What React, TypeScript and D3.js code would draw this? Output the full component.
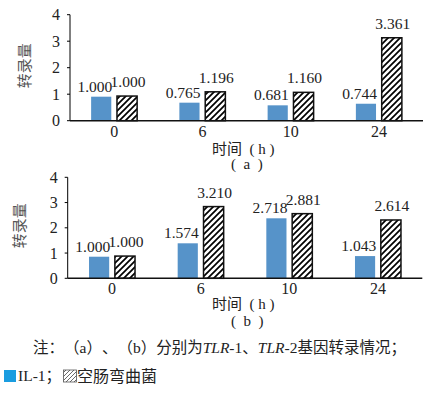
import React from "react";
import * as d3 from "d3";

// time points (h)
const times = ["0", "6", "10", "24"];
const seriesKeys = ["IL-1", "空肠弯曲菌"];

// bar heights as drawn in the figure
const tlr1IL = [0.906, 0.68, 0.58, 0.64];
const tlr1Cj = [0.93, 1.09, 1.07, 3.13];
const tlr2IL = [0.855, 1.386, 2.376, 0.88];
const tlr2Cj = [0.88, 2.84, 2.56, 2.31];

// printed value labels
const tlr1ILLabels = ["1.000", "0.765", "0.681", "0.744"];
const tlr1CjLabels = ["1.000", "1.196", "1.160", "3.361"];
const tlr2ILLabels = ["1.000", "1.574", "2.718", "1.043"];
const tlr2CjLabels = ["1.000", "3.210", "2.881", "2.614"];

const yTicks = [0, 1, 2, 3, 4];

const serif = "'Liberation Serif', 'Times New Roman', 'Noto Sans CJK SC', serif";
const cjk = "'Liberation Serif', 'Noto Sans CJK SC', serif";
const blue = "#5693c9";

function Panel(props) {
    const {x0, x1, yTop, yBottom, il, cj, ilLabels, cjLabels, tag, titleY, tagY, yTitleX} = props;

    const x = d3.scaleBand().domain(times).range([x0, x1]);
    const sub = d3.scaleBand().domain(seriesKeys).range([-23, 23]).paddingInner(0.22);
    const y = d3.scaleLinear().domain([0, 4]).range([yBottom, yTop]);
    const cx = (t) => x(t) + x.bandwidth() / 2;

    return (
        <g>
            {/* y axis */}
            <line x1={x0} x2={x0} y1={y(4)} y2={y(0)} stroke="#000" strokeWidth={1} />
            {yTicks.map((t) => (
                <g key={t}>
                    <line x1={x0 - 3} x2={x0} y1={y(t)} y2={y(t)} stroke="#000" strokeWidth={1} />
                    <text x={x0 - 10} y={y(t)} dy="0.35em" textAnchor="end" fontSize={16} fontFamily={serif} fill="#222">{t}</text>
                </g>
            ))}
            {/* bars */}
            {times.map((t, i) => (
                <g key={t}>
                    <rect x={cx(t) + sub("IL-1")} width={sub.bandwidth()} y={y(il[i])} height={y(0) - y(il[i])} fill={blue} />
                    <rect x={cx(t) + sub("空肠弯曲菌")} width={sub.bandwidth()} y={y(cj[i])} height={y(0) - y(cj[i])} fill="url(#hatch)" stroke="#111" strokeWidth={1.5} />
                    <text x={cx(t) + sub("IL-1") + sub.bandwidth() + 1} y={y(il[i]) - 5} textAnchor="end" fontSize={15.5} fontFamily={serif} fill="#222">{ilLabels[i]}</text>
                    <text x={cx(t) + sub("空肠弯曲菌") + sub.bandwidth() / 2 + 1} y={y(cj[i]) - 9} textAnchor="middle" fontSize={15.5} fontFamily={serif} fill="#222">{cjLabels[i]}</text>
                    <text x={cx(t)} y={y(0) + 16} textAnchor="middle" fontSize={16} fontFamily={serif} fill="#222">{t}</text>
                </g>
            ))}
            {/* x axis */}
            <line x1={x0} x2={x1} y1={y(0)} y2={y(0)} stroke="#111" strokeWidth={1.5} />
            {/* titles */}
            <text transform={`translate(${yTitleX},${(yTop + yBottom) / 2 - 2}) rotate(-90)`} dy="0.35em" textAnchor="middle" fontSize={15} fontFamily={cjk} fill="#555">转录量</text>
            <text x={212} y={titleY} dy="0.35em" fontSize={15} fontFamily={cjk} fill="#222">{"时间\u2002(\u2005h\u2005)"}</text>
            <text x={231} y={tagY} dy="0.35em" fontSize={15} fontFamily={serif} fill="#222">{`(\u2002${tag}\u2002)`}</text>
        </g>
    );
}

export default function App() {
    return (
        <svg width={437} height={395} style={{position: "absolute", left: 0, top: 0, background: "#fff", textSpacingTrim: "space-all"}}>
            <defs>
                <pattern id="hatch" patternUnits="userSpaceOnUse" width={6} height={6}>
                    <rect width={6} height={6} fill="#fff" />
                    <path d="M0,6 L6,0 M-1,1 L1,-1 M5,7 L7,5" stroke="#000" strokeWidth={1.7} />
                </pattern>
                <pattern id="hatchLegend" patternUnits="userSpaceOnUse" width={4} height={4}>
                    <rect width={4} height={4} fill="#fff" />
                    <path d="M0,4 L4,0 M-1,1 L1,-1 M3,5 L5,3" stroke="#444" strokeWidth={0.8} />
                </pattern>
            </defs>
            <Panel x0={70} x1={423} yTop={14.7} yBottom={120.7}
                il={tlr1IL} cj={tlr1Cj} ilLabels={tlr1ILLabels} cjLabels={tlr1CjLabels}
                tag="a" titleY={149} tagY={164} yTitleX={25} />
            <Panel x0={67.7} x1={422.3} yTop={177.3} yBottom={278.3}
                il={tlr2IL} cj={tlr2Cj} ilLabels={tlr2ILLabels} cjLabels={tlr2CjLabels}
                tag="b" titleY={304} tagY={321} yTitleX={20} />
            {/* note */}
            <text x={33} y={348} dy="0.35em" fontSize={15.5} fontFamily={cjk} fill="#222">
                注：（a）、（b）分别为<tspan fontStyle="italic">TLR</tspan>-1、<tspan fontStyle="italic">TLR</tspan>-2基因转录情况；
            </text>
            {/* legend */}
            <rect x={4} y={370} width={12} height={12} fill="#1a9de0" />
            <text x={18} y={376} dy="0.35em" fontSize={15.5} fontFamily={cjk} fill="#222">IL-1；</text>
            <rect x={63.5} y={370} width={13} height={12} fill="url(#hatchLegend)" stroke="#555" strokeWidth={0.8} />
            <text x={77} y={376} dy="0.35em" fontSize={16} fontFamily={cjk} fill="#222">空肠弯曲菌</text>
        </svg>
    );
}
